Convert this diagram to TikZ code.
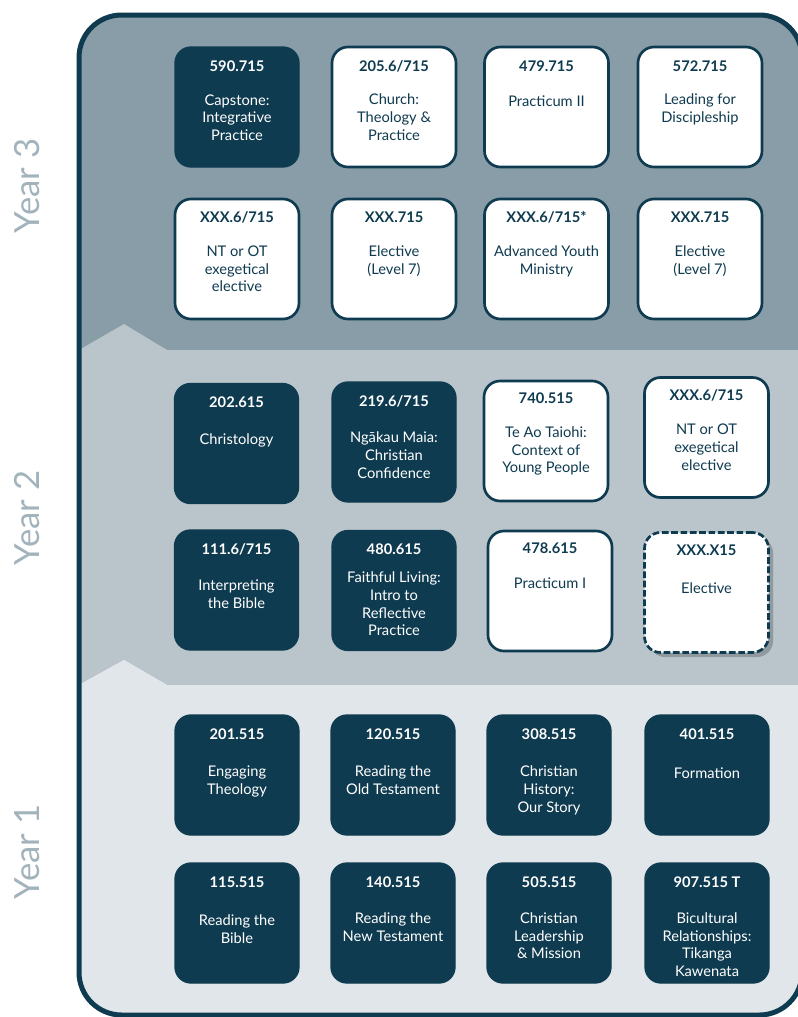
\documentclass[tikz,border=0pt]{standalone}
\usepackage{fontspec}
\setmainfont{Lato}
\usetikzlibrary{positioning}

\definecolor{deep}{HTML}{0F3B50}
\definecolor{yearthree}{HTML}{889DA7}
\definecolor{yeartwo}{HTML}{B9C4CB}
\definecolor{yearone}{HTML}{E1E6EA}
\definecolor{yearlabel}{HTML}{A2B3BC}
\definecolor{shade}{HTML}{8F999E}

\tikzset{
  course/.style={rounded corners=12pt, minimum width=93pt, minimum height=90pt, inner sep=0pt},
  darkbox/.style={course, fill=deep, draw=deep, line width=1pt},
  lightbox/.style={course, fill=white, draw=deep, line width=2pt},
  codetext/.style={font=\fontsize{11}{13}\selectfont\bfseries, inner sep=0pt, text=#1},
  % first line baseline sits at the given distance below the box top
  titletext/.style={font=\fontsize{11}{13.3}\selectfont, align=center, inner sep=0pt, text=#1,
    execute at begin node=\strut, yshift=7.1pt},
  yeartext/.style={font=\fontsize{26}{30}\selectfont, text=yearlabel, inner sep=0pt}
}

\begin{document}
\begin{tikzpicture}[x=0.75pt, y=-0.75pt]
\useasboundingbox (0,0) rectangle (798,1017);

% year bands
\begin{scope}
\clip[rounded corners=32pt] (79,15) rectangle (802,1015);
\fill[yearthree] (79,15) rectangle (802,350);
\fill[yeartwo] (79,350) -- (124,324) -- (167,350) -- (802,350) -- (802,685) -- (167,685) -- (124,660) -- (79,685) -- cycle;
\fill[yearone] (79,685) -- (124,660) -- (167,685) -- (802,685) -- (802,1015) -- (79,1015) -- cycle;
\end{scope}
\draw[deep, line width=3.75pt, rounded corners=32pt] (79,15) rectangle (802,1015);

\node[yeartext, rotate=90] (y3) at (27,186) {Year 3};
\node[yeartext, rotate=90] (y2) at (27,518) {Year 2};
\node[yeartext, rotate=90] (y1) at (27,852) {Year 1};

% Year 3
\node[darkbox] (c590) at (237,107) {};
\node[codetext=white, below=19pt of c590.north, anchor=base] (c590c) {590.715};
\node[titletext=white, below=43pt of c590.north, anchor=north] (c590t) {Capstone:\\Integrative\\Practice};

\node[lightbox] (c205) at (394,107) {};
\node[codetext=deep, below=19pt of c205.north, anchor=base] (c205c) {205.6/715};
\node[titletext=deep, below=43pt of c205.north, anchor=north] (c205t) {Church:\\Theology \&\\Practice};

\node[lightbox] (c479) at (546.5,107) {};
\node[codetext=deep, below=19pt of c479.north, anchor=base] (c479c) {479.715};
\node[titletext=deep, below=43pt of c479.north, anchor=north] (c479t) {Practicum II};

\node[lightbox] (c572) at (700,107) {};
\node[codetext=deep, below=19pt of c572.north, anchor=base] (c572c) {572.715};
\node[titletext=deep, below=43pt of c572.north, anchor=north] (c572t) {Leading for\\Discipleship};

\node[lightbox] (e3a) at (237,259) {};
\node[codetext=deep, below=18.5pt of e3a.north, anchor=base] (e3ac) {XXX.6/715};
\node[titletext=deep, below=43pt of e3a.north, anchor=north] (e3at) {NT or OT\\exegetical\\elective};

\node[lightbox] (e3b) at (394,259) {};
\node[codetext=deep, below=18.5pt of e3b.north, anchor=base] (e3bc) {XXX.715};
\node[titletext=deep, below=43pt of e3b.north, anchor=north] (e3bt) {Elective\\(Level 7)};

\node[lightbox] (e3c) at (546.5,259) {};
\node[codetext=deep, below=18.5pt of e3c.north, anchor=base] (e3cc) {XXX.6/715*};
\node[titletext=deep, below=43pt of e3c.north, anchor=north] (e3ct) {Advanced Youth\\Ministry};

\node[lightbox] (e3d) at (700,259) {};
\node[codetext=deep, below=18.5pt of e3d.north, anchor=base] (e3dc) {XXX.715};
\node[titletext=deep, below=43pt of e3d.north, anchor=north] (e3dt) {Elective\\(Level 7)};

% Year 2
\node[darkbox] (c202) at (236.5,443.5) {};
\node[codetext=white, below=18.5pt of c202.north, anchor=base] (c202c) {202.615};
\node[titletext=white, below=44pt of c202.north, anchor=north] (c202t) {Christology};

\node[darkbox] (c219) at (394,442) {};
\node[codetext=white, below=18.5pt of c219.north, anchor=base] (c219c) {219.6/715};
\node[titletext=white, below=45pt of c219.north, anchor=north] (c219t) {Ngākau Maia:\\Christian\\Confidence};

\node[lightbox] (c740) at (546,441) {};
\node[codetext=deep, below=18pt of c740.north, anchor=base] (c740c) {740.515};
\node[titletext=deep, below=42pt of c740.north, anchor=north] (c740t) {Te Ao Taiohi:\\Context of\\Young People};

\node[lightbox] (e2a) at (706.5,437.5) {};
\node[codetext=deep, below=18.5pt of e2a.north, anchor=base] (e2ac) {XXX.6/715};
\node[titletext=deep, below=43pt of e2a.north, anchor=north] (e2at) {NT or OT\\exegetical\\elective};

\node[darkbox] (c111) at (236.5,590) {};
\node[codetext=white, below=18.5pt of c111.north, anchor=base] (c111c) {111.6/715};
\node[titletext=white, below=45pt of c111.north, anchor=north] (c111t) {Interpreting\\the Bible};

\node[darkbox] (c480) at (394,590.5) {};
\node[codetext=white, below=18.5pt of c480.north, anchor=base] (c480c) {480.615};
\node[titletext=white, below=38.5pt of c480.north, anchor=north] (c480t) {Faithful Living:\\Intro to\\Reflective\\Practice};

\node[lightbox] (c478) at (550,591) {};
\node[codetext=deep, below=18pt of c478.north, anchor=base] (c478c) {478.615};
\node[titletext=deep, below=42pt of c478.north, anchor=north] (c478t) {Practicum I};

\node[course, fill=shade] (e2bshadow) at (711,597) {};
\node[lightbox, dash pattern=on 5pt off 2pt] (e2b) at (706.5,592.5) {};
\node[codetext=deep, below=18.5pt of e2b.north, anchor=base] (e2bc) {XXX.X15};
\node[titletext=deep, below=44pt of e2b.north, anchor=north] (e2bt) {Elective};

% Year 1
\node[darkbox] (c201) at (237,775) {};
\node[codetext=white, below=19pt of c201.north, anchor=base] (c201c) {201.515};
\node[titletext=white, below=45.5pt of c201.north, anchor=north] (c201t) {Engaging\\Theology};

\node[darkbox] (c120) at (393,775) {};
\node[codetext=white, below=19pt of c120.north, anchor=base] (c120c) {120.515};
\node[titletext=white, below=45.5pt of c120.north, anchor=north] (c120t) {Reading the\\Old Testament};

\node[darkbox] (c308) at (549,775) {};
\node[codetext=white, below=19pt of c308.north, anchor=base] (c308c) {308.515};
\node[titletext=white, below=45.5pt of c308.north, anchor=north] (c308t) {Christian\\History:\\Our Story};

\node[darkbox] (c401) at (707,775) {};
\node[codetext=white, below=19pt of c401.north, anchor=base] (c401c) {401.515};
\node[titletext=white, below=45.5pt of c401.north, anchor=north] (c401t) {Formation};

\node[darkbox] (c115) at (237,923) {};
\node[codetext=white, below=19pt of c115.north, anchor=base] (c115c) {115.515};
\node[titletext=white, below=46pt of c115.north, anchor=north] (c115t) {Reading the\\Bible};

\node[darkbox] (c140) at (393,923) {};
\node[codetext=white, below=19pt of c140.north, anchor=base] (c140c) {140.515};
\node[titletext=white, below=44.5pt of c140.north, anchor=north] (c140t) {Reading the\\New Testament};

\node[darkbox] (c505) at (549,923) {};
\node[codetext=white, below=19pt of c505.north, anchor=base] (c505c) {505.515};
\node[titletext=white, below=44.5pt of c505.north, anchor=north] (c505t) {Christian\\Leadership\\\& Mission};

\node[darkbox] (c907) at (707,923) {};
\node[codetext=white, below=19pt of c907.north, anchor=base] (c907c) {907.515 T};
\node[titletext=white, below=44.5pt of c907.north, anchor=north] (c907t) {Bicultural\\Relationships:\\Tikanga\\Kawenata};
\end{tikzpicture}
\end{document}
